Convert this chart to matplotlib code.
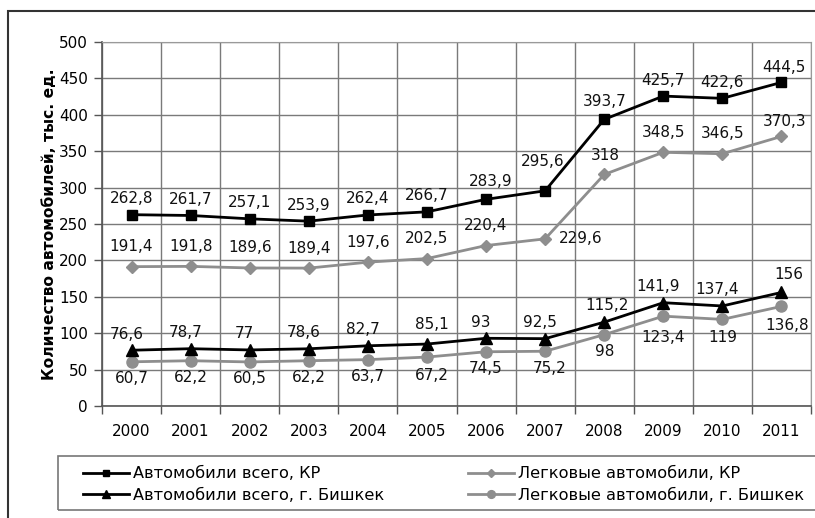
import matplotlib
matplotlib.use("Agg")
import matplotlib.pyplot as plt
from matplotlib.patches import Rectangle

plt.rcParams['font.family'] = ['DejaVu Sans']

years = ['2000', '2001', '2002', '2003', '2004', '2005', '2006', '2007', '2008', '2009', '2010', '2011']
cars_kr = [262.8, 261.7, 257.1, 253.9, 262.4, 266.7, 283.9, 295.6, 393.7, 425.7, 422.6, 444.5]
pass_kr = [191.4, 191.8, 189.6, 189.4, 197.6, 202.5, 220.4, 229.6, 318, 348.5, 346.5, 370.3]
cars_bishkek = [76.6, 78.7, 77, 78.6, 82.7, 85.1, 93, 92.5, 115.2, 141.9, 137.4, 156]
pass_bishkek = [60.7, 62.2, 60.5, 62.2, 63.7, 67.2, 74.5, 75.2, 98, 123.4, 119, 136.8]

series_names = ['Автомобили всего, КР', 'Легковые автомобили, КР',
                'Автомобили всего, г. Бишкек', 'Легковые автомобили, г. Бишкек']
ylabel = 'Количество автомобилей, тыс. ед.'

def fmt(v):
    return ('%g' % v).replace('.', ',')

W, H = 815, 518
FS = 11
fig = plt.figure(figsize=(W / 100, H / 100), dpi=100)
ax = fig.add_axes([102 / W, 1 - 406 / H, (811 - 102) / W, (406 - 42) / H])

BLACK = '#000000'
GRAY = '#8e8e8e'
x = list(range(len(years)))

l1, = ax.plot(x, cars_kr, color=BLACK, lw=2, marker='s', ms=7, label=series_names[0], zorder=5)
l2, = ax.plot(x, pass_kr, color=GRAY, lw=2, marker='D', ms=6.5, label=series_names[1], zorder=4)
l3, = ax.plot(x, cars_bishkek, color=BLACK, lw=2, marker='^', ms=8, label=series_names[2], zorder=5)
l4, = ax.plot(x, pass_bishkek, color=GRAY, lw=2, marker='o', ms=8, label=series_names[3], zorder=4)

ax.set_xlim(-0.5, len(years) - 0.5)
ax.set_ylim(0, 500)
ax.set_yticks(range(0, 501, 50))
ax.set_xticks([i - 0.5 for i in range(len(years) + 1)], minor=False)
ax.set_xticklabels([])
ax.set_xticks(x, minor=True)
ax.set_xticklabels(years, minor=True)
ax.tick_params(axis='x', which='minor', length=0, pad=13, labelsize=FS)
ax.tick_params(axis='x', which='major', length=6, color='#555555', width=1)
ax.tick_params(axis='y', length=6, color='#555555', width=1, labelsize=FS, pad=4)
ax.grid(True, which='major', color='#7a7a7a', lw=1)
ax.set_axisbelow(True)
for side in ['top', 'right']:
    ax.spines[side].set_color('#9a9a9a')
for side in ['left', 'bottom']:
    ax.spines[side].set_color('#555555')
    ax.spines[side].set_linewidth(1.2)

ax.set_ylabel(ylabel, fontsize=11.2, fontweight='bold')
ax.yaxis.set_label_coords((57 - 102) / (811 - 102), 0.5)

# label offsets in pixels (dx, dy)
default_offsets = [(0, 16), (0, 20), (-5, 16), (0, -17)]
special = {
    (0, 6): (5, 18), (0, 7): (-2, 29), (0, 8): (0, 18), (0, 11): (2, 15),
    (1, 7): (36, 0), (1, 8): (1, 19), (1, 11): (3, 15),
    (2, 5): (5, 20), (2, 8): (3, 17), (2, 11): (7, 18),
    (3, 5): (5, -18), (3, 7): (5, -17), (3, 11): (6, -19),
    (3, 9): (0, -21), (3, 10): (0, -18),
}
all_series = [cars_kr, pass_kr, cars_bishkek, pass_bishkek]
for si, vals in enumerate(all_series):
    for i, v in enumerate(vals):
        dx, dy = special.get((si, i), default_offsets[si])
        ax.annotate(fmt(v), (i, v), xytext=(dx, dy), textcoords='offset pixels',
                    ha='center', va='center', fontsize=FS, color='#111111', zorder=6)

LFS = 11.6
leg_kw = dict(loc='center left', frameon=False, fontsize=LFS, handlelength=2.85,
              handletextpad=0.25, borderaxespad=0, borderpad=0, labelspacing=0.4,
              markerscale=0.7)
leg1 = fig.legend(handles=[l1, l3], labels=[series_names[0], series_names[2]],
                  bbox_to_anchor=(83 / W, 1 - 484.5 / H), **leg_kw)
leg2 = fig.legend(handles=[l2, l4], labels=[series_names[1], series_names[3]],
                  bbox_to_anchor=(468 / W, 1 - 484.5 / H), **leg_kw)

fig.patches.append(Rectangle((58 / W, 1 - 510 / H), 1.0, (510 - 456) / H, transform=fig.transFigure,
                             fill=False, edgecolor='#777777', lw=1.2))
fig.patches.append(Rectangle((8 / W, -0.1), 1.1, 1 - 11 / H + 0.1, transform=fig.transFigure,
                             fill=False, edgecolor='#333333', lw=1.5))

fig.savefig('out.png', dpi=100)
